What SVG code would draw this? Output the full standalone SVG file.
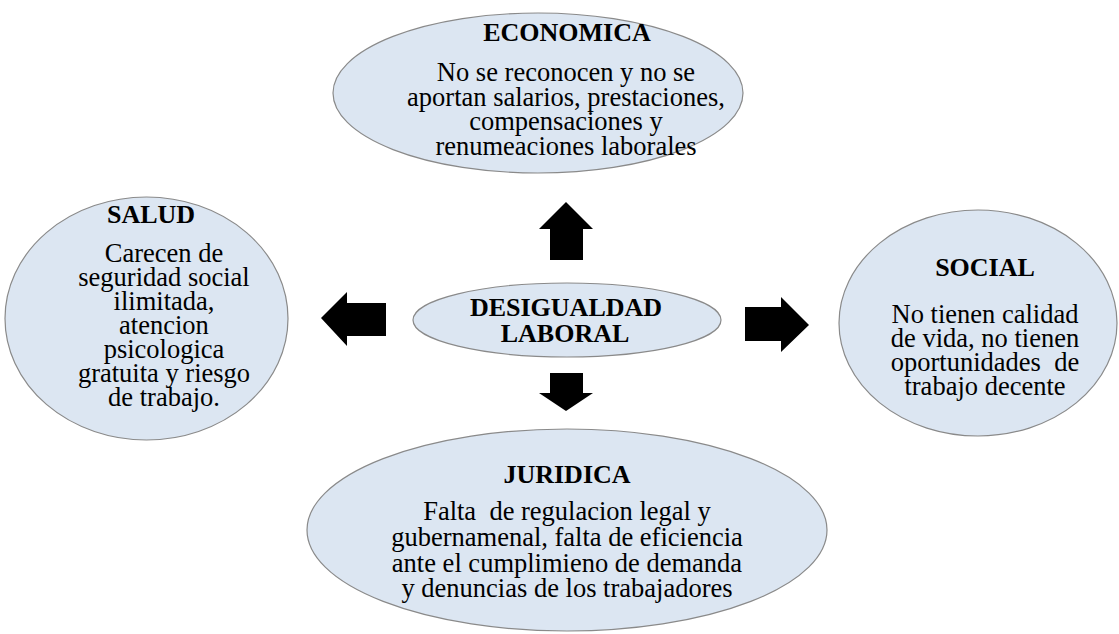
<svg xmlns="http://www.w3.org/2000/svg" width="1119" height="634" viewBox="0 0 1119 634">
<style>
.node{fill:#dce6f2;stroke:#8a8a8a;stroke-width:1.2}
.t{font-family:"Liberation Serif","Times New Roman",serif;font-size:26px;font-weight:bold;fill:#000;text-anchor:middle}
.b{font-family:"Liberation Serif","Times New Roman",serif;font-size:26.5px;fill:#000;text-anchor:middle}
.arr{fill:#000}
</style>
<rect width="1119" height="634" fill="#fff"/>
<g id="economica">
<ellipse class="node" cx="538" cy="93" rx="205" ry="80"/>
<text class="t" x="567" y="41">ECONOMICA</text>
<text class="b" x="566" y="81">No se reconocen y no se</text>
<text class="b" x="566" y="105.5">aportan salarios, prestaciones,</text>
<text class="b" x="566" y="130">compensaciones y</text>
<text class="b" x="566" y="155">renumeaciones laborales</text>
</g>
<g id="salud">
<ellipse class="node" cx="146.5" cy="318.5" rx="141.5" ry="121.5"/>
<text class="t" x="151" y="223">SALUD</text>
<text class="b" x="164" y="262">Carecen de</text>
<text class="b" x="164" y="286">seguridad social</text>
<text class="b" x="164" y="310">ilimitada,</text>
<text class="b" x="164" y="334">atencion</text>
<text class="b" x="164" y="358">psicologica</text>
<text class="b" x="164" y="382">gratuita y riesgo</text>
<text class="b" x="164" y="406">de trabajo.</text>
</g>
<g id="social">
<ellipse class="node" cx="978" cy="323" rx="139" ry="113"/>
<text class="t" x="985" y="276">SOCIAL</text>
<text class="b" x="985" y="323">No tienen calidad</text>
<text class="b" x="985" y="347">de vida, no tienen</text>
<text class="b" x="985" y="371" xml:space="preserve">oportunidades  de</text>
<text class="b" x="985" y="395">trabajo decente</text>
</g>
<g id="juridica">
<ellipse class="node" cx="567" cy="530" rx="260" ry="101"/>
<text class="t" x="567" y="483">JURIDICA</text>
<text class="b" x="567" y="520" xml:space="preserve">Falta  de regulacion legal y</text>
<text class="b" x="567" y="546">gubernamenal, falta de eficiencia</text>
<text class="b" x="567" y="572">ante el cumplimieno de demanda</text>
<text class="b" x="567" y="597">y denuncias de los trabajadores</text>
</g>
<g id="desigualdad">
<ellipse class="node" cx="567" cy="320" rx="154" ry="37"/>
<text class="t" x="566" y="316">DESIGUALDAD</text>
<text class="t" x="565" y="342">LABORAL</text>
</g>
<g id="connectors">
<polygon class="arr" points="566,202 593,229 583,229 583,260 550,260 550,229 539,229"/>
<polygon class="arr" points="566,411 593,393 583,393 583,373 550,373 550,393 539,393"/>
<polygon class="arr" points="321,318 347,292 347,303 386,303 386,336 347,336 347,346"/>
<polygon class="arr" points="809,325 781,297 781,307 745,307 745,341 781,341 781,352"/>
</g>
</svg>
